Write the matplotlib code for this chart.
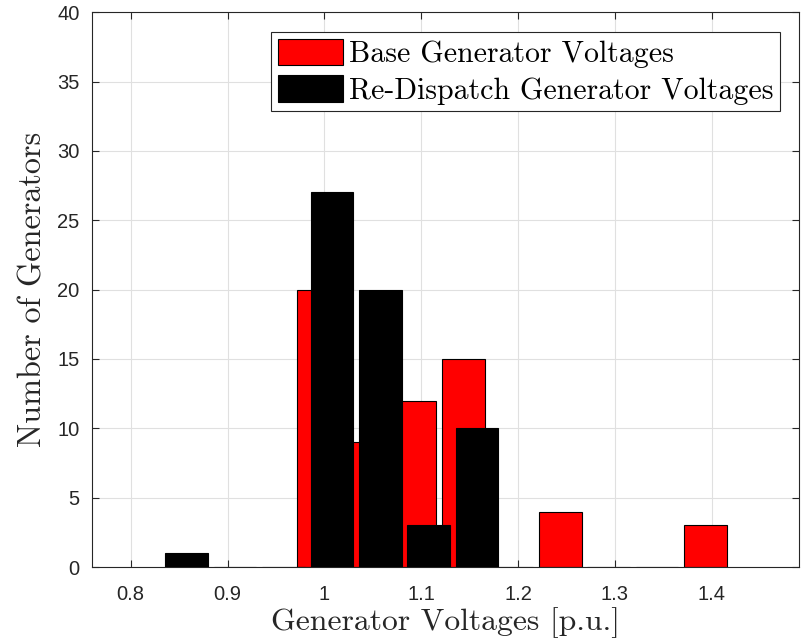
import matplotlib
matplotlib.use("Agg")
import matplotlib.pyplot as plt
import numpy as np

# bin centres and counts (MATLAB hist output)
base_centers = [0.9936, 1.0436, 1.0936, 1.1436, 1.1936, 1.2436, 1.2936, 1.3436, 1.3936]
base_counts = [20, 9, 12, 15, 0, 4, 0, 0, 3]
redisp_centers = [0.8577, 0.9077, 0.9577, 1.0077, 1.0577, 1.1077, 1.1577]
redisp_counts = [1, 0, 0, 27, 20, 3, 10]

x_ticks = [0.8, 0.9, 1.0, 1.1, 1.2, 1.3, 1.4]
x_ticklabels = ["0.8", "0.9", "1", "1.1", "1.2", "1.3", "1.4"]
y_ticks = [0, 5, 10, 15, 20, 25, 30, 35, 40]

BAR_W = 0.0439
AX_COLOR = "#262626"
SERIF = "cmr10"
TICK_FONT = "Liberation Sans"

fig = plt.figure(figsize=(8.07, 6.4), dpi=100)
ax = fig.add_axes([0.114, 0.114, 0.876, 0.867])

ax.bar(base_centers, base_counts, width=BAR_W, color="#ff0000",
       edgecolor="black", linewidth=0.8, label="Base Generator Voltages", zorder=2)
ax.bar(redisp_centers, redisp_counts, width=BAR_W, color="black",
       edgecolor="black", linewidth=0.8, label="Re-Dispatch Generator Voltages", zorder=3)

ax.set_xlim(0.76, 1.49)
ax.set_ylim(0, 40)
ax.set_xticks(x_ticks)
ax.set_xticklabels(x_ticklabels)
ax.set_yticks(y_ticks)

ax.grid(True, color="#e0e0e0", linewidth=0.8, zorder=0)
ax.set_axisbelow(True)
ax.tick_params(direction="in", top=True, right=True, length=5, width=0.8,
               colors=AX_COLOR, labelsize=14.5)
ax.tick_params(axis="x", pad=13)
ax.tick_params(axis="y", pad=9)
for lab in ax.get_xticklabels() + ax.get_yticklabels():
    lab.set_fontfamily(TICK_FONT)
for sp in ax.spines.values():
    sp.set_color(AX_COLOR)
    sp.set_linewidth(0.8)

ax.set_xlabel("Generator Voltages [p.u.]", fontfamily=SERIF, fontsize=22.8,
              color=AX_COLOR, labelpad=2)
ax.set_ylabel("Number of Generators", fontfamily=SERIF, fontsize=23.2,
              color=AX_COLOR, labelpad=7)

leg = ax.legend(loc="upper right", bbox_to_anchor=(0.973, 0.964),
                prop={"family": SERIF, "size": 21.5}, frameon=True, fancybox=False,
                edgecolor=AX_COLOR, framealpha=1, handlelength=2.17, handleheight=0.97,
                handletextpad=0.2, borderpad=0.22, labelspacing=0.25,
                borderaxespad=0)
leg.get_frame().set_linewidth(0.8)

fig.savefig("out.png", dpi=100)
